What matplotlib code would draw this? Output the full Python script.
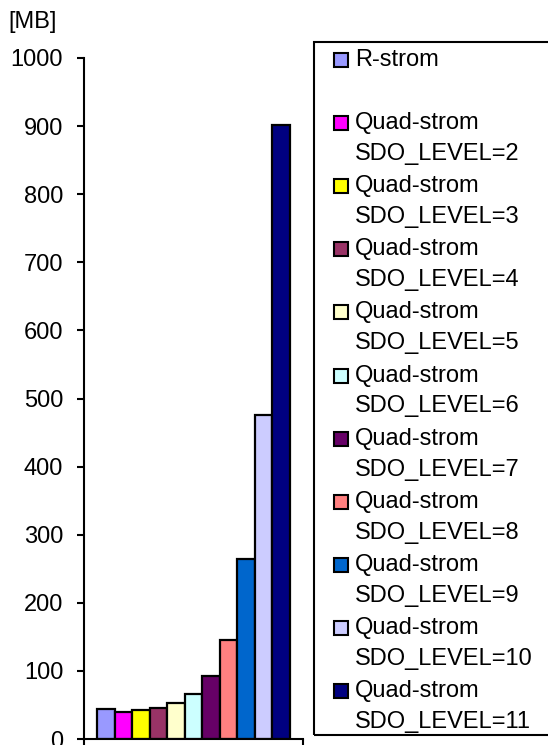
import matplotlib
matplotlib.use("Agg")
import matplotlib.pyplot as plt
from matplotlib.patches import Rectangle

plt.rcParams['font.family'] = ['Liberation Sans', 'DejaVu Sans']

# series (one category, eleven bars)
labels = ["R-strom",
          "Quad-strom\nSDO_LEVEL=2", "Quad-strom\nSDO_LEVEL=3",
          "Quad-strom\nSDO_LEVEL=4", "Quad-strom\nSDO_LEVEL=5",
          "Quad-strom\nSDO_LEVEL=6", "Quad-strom\nSDO_LEVEL=7",
          "Quad-strom\nSDO_LEVEL=8", "Quad-strom\nSDO_LEVEL=9",
          "Quad-strom\nSDO_LEVEL=10", "Quad-strom\nSDO_LEVEL=11"]
sizes_mb = [44, 40, 42, 45, 53, 66, 93, 146, 265, 476, 902]
colors = ["#9999FF", "#FF00FF", "#FFFF00", "#993366", "#FFFFCC", "#CCFFFF",
          "#660066", "#FF8080", "#0066CC", "#CCCCFF", "#000080"]
yticks = list(range(0, 1001, 100))

W, H = 548, 745
fs = 17
fig = plt.figure(figsize=(W / 100, H / 100), dpi=100)
ax = fig.add_axes([84 / W, 6 / H, 219 / W, 681 / H])

x = list(range(len(sizes_mb)))
ax.bar(x, sizes_mb, width=1.0, color=colors, edgecolor="black", linewidth=1.6)

ax.set_xlim(-1.25, len(sizes_mb) - 1 + 1.25)
ax.set_ylim(0, 1000)
ax.set_yticks(yticks)
ax.set_xticks([-1.25, len(sizes_mb) - 1 + 1.25])
ax.set_xticklabels([])
ax.tick_params(axis="y", direction="out", length=5, width=1.5, labelsize=fs, pad=10)
ax.tick_params(axis="x", direction="out", length=6, width=1.5)
for s in ["top", "right"]:
    ax.spines[s].set_visible(False)
for s in ["left", "bottom"]:
    ax.spines[s].set_linewidth(1.5)

fig.text(8 / W, 1 - 22 / H, "[MB]", fontsize=fs, va="center", ha="left")

# legend box drawn by hand (Excel-style, clipped at the right edge)
fig.patches.append(Rectangle((314 / W, 1 - 735 / H), 260 / W, 693 / H,
                             transform=fig.transFigure, fill=False,
                             edgecolor="black", linewidth=1.5))
for i, (lab, col) in enumerate(zip(labels, colors)):
    cy = 60 + 63.1 * i
    fig.patches.append(Rectangle((334 / W, 1 - (cy + 7) / H), 14 / W, 14 / H,
                                 transform=fig.transFigure, facecolor=col,
                                 edgecolor="black", linewidth=1.5))
    for j, line in enumerate(lab.split("\n")):
        fig.text(355 / W, 1 - (cy + 31 * j) / H, line, fontsize=fs,
                 va="center", ha="left")

fig.savefig("out.png", dpi=100)
